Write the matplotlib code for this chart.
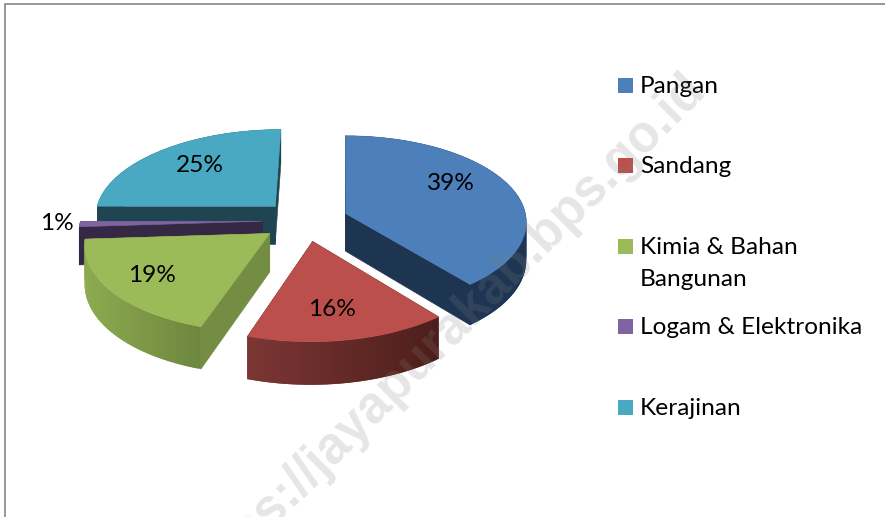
import numpy as np
import matplotlib
matplotlib.use('Agg')
import matplotlib.pyplot as plt
from matplotlib.patches import Polygon, Rectangle

categories = ['Pangan', 'Sandang', 'Kimia & Bahan\nBangunan', 'Logam & Elektronika', 'Kerajinan']
values = [39, 16, 19, 1, 25]

top_colors = ['#4d7fba', '#bb4f4c', '#9bbb59', '#8064a2', '#49a9c3']
face_colors = ['#1e3552', '#5a2422', '#738d43', '#352845', '#1f4550']
rim_left = ['#1c3350', '#7c3634', '#8dab50', '#352845', '#1f4550']
rim_right = ['#1e3654', '#4d1e1b', '#6d873f', '#352845', '#1f4550']

# pixel layout of the pie
CX, CY = 305, 220.6
A, B = 181, 86.5
K = 0.095
SHEAR = 3
EXPLODE = 0.24
DEPTH = 38

LABEL_POS = [(451, 184), (332, 310), (152, 275), (57, 223), (200, 166)]
LEGEND_Y = [85, 165, 246, 326, 407]
DRAW_ORDER = [4, 3, 0, 2, 1]

plt.rcParams['font.family'] = ['Lato', 'DejaVu Sans']


def project(u, v, z=0.0):
    s = 1 + K * v
    return CX + A * u / s + SHEAR * v, CY - B * v / s + z * DEPTH / s


def slice_points(theta, off_u, off_v, z=0.0):
    x, y = project(off_u + np.cos(theta), off_v + np.sin(theta), z)
    return np.column_stack([x, y])


def mix(c1, c2, t):
    a = np.array(matplotlib.colors.to_rgb(c1))
    b = np.array(matplotlib.colors.to_rgb(c2))
    return a + (b - a) * t


def draw_slice(ax, i, start, end):
    mid = (start + end) / 2
    off_u, off_v = EXPLODE * np.cos(mid), EXPLODE * np.sin(mid)
    theta = np.linspace(start, end, 80)
    rim_top = slice_points(theta, off_u, off_v)
    rim_bot = slice_points(theta, off_u, off_v, 1)
    apex_top = np.array(project(off_u, off_v))
    apex_bot = np.array(project(off_u, off_v, 1))

    # cut faces
    for edge_top, edge_bot in [(rim_top[0], rim_bot[0]), (rim_top[-1], rim_bot[-1])]:
        ax.add_patch(Polygon([apex_top, edge_top, edge_bot, apex_bot], closed=True,
                             facecolor=face_colors[i], edgecolor=face_colors[i], lw=0.4))

    # outer wall, quads overlap a little so no seams show in the shade
    x_min, x_max = rim_top[:, 0].min(), rim_top[:, 0].max()
    for j in range(len(theta) - 1):
        t = (rim_top[j, 0] - x_min) / (x_max - x_min)
        col = mix(rim_left[i], rim_right[i], t)
        k = min(j + 2, len(theta) - 1)
        ax.add_patch(Polygon([rim_top[j], rim_top[k], rim_bot[k], rim_bot[j]], closed=True,
                             facecolor=col, edgecolor='none'))

    ax.add_patch(Polygon(np.vstack([apex_top, rim_top]), closed=True,
                         facecolor=top_colors[i], edgecolor=top_colors[i], lw=0.4))


fig = plt.figure(figsize=(8.85, 5.17), dpi=100)
ax = fig.add_axes([0, 0, 1, 1])
ax.set_xlim(0, 885)
ax.set_ylim(517, 0)
ax.axis('off')

# chart frame
ax.plot([5, 5, 885], [517, 4, 4], color='#868686', lw=1.2, solid_joinstyle='miter')

fractions = np.array(values) / sum(values)
ends = np.pi / 2 - 2 * np.pi * np.cumsum(fractions)
starts = np.concatenate([[np.pi / 2], ends[:-1]])

for i in DRAW_ORDER:
    draw_slice(ax, i, starts[i], ends[i])

for i, (x, y) in enumerate(LABEL_POS):
    ax.text(x, y, f'{values[i]}%', ha='center', va='center', fontsize=17.6, color='black')

for i, name in enumerate(categories):
    y = LEGEND_Y[i]
    ax.add_patch(Rectangle((618, y - 7.5), 15, 15, facecolor=top_colors[i], edgecolor='none'))
    ax.text(640, y - 9, name, ha='left', va='top', fontsize=17.6, color='black', linespacing=1.62)

# watermark sits above everything
ax.text(697, 81, 'https://jayapurakab.bps.go.id', rotation=45, rotation_mode='anchor',
        ha='right', va='center', fontsize=37, fontweight='bold', family='Liberation Sans',
        color='#808080', alpha=0.2)

fig.savefig('out.png', dpi=100)
